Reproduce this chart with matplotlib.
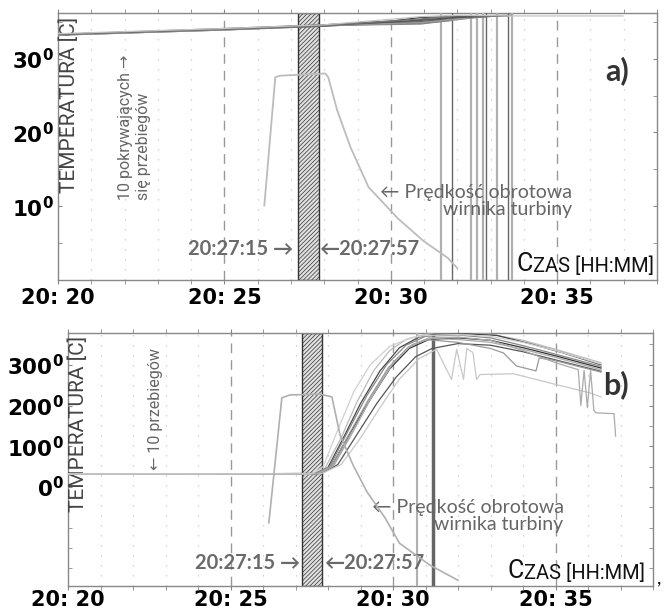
import matplotlib
matplotlib.use("Agg")
import matplotlib.pyplot as plt
from matplotlib.patches import Rectangle

plt.rcParams['font.family'] = ['Lato', 'DejaVu Sans']
plt.rcParams['hatch.linewidth'] = 0.5
plt.rcParams['mathtext.fontset'] = 'dejavusans'

# time in minutes after 20:20
x_ticks = [0, 5, 10, 15]
x_labels = ['20: 20', '20: 25', '20: 30', '20: 35']
win_start, win_end = 7.2, 7.83   # hatched window 20:27:15 - 20:27:57

# ---- panel a) ----
a_yticks = [10, 20, 30]
a_ylabels = [r'$\mathbf{10^{0}}$', r'$\mathbf{20^{0}}$', r'$\mathbf{30^{0}}$']
a_run_t = [
    [0, 5, 8, 10.9, 11.52],
    [0, 5, 8, 10.9, 11.85],
    [0, 5, 8, 10.0, 10.9, 12.42],
    [0, 5, 8, 10.9, 12.0, 12.6],
    [0, 5, 8, 10.0, 10.9, 12.78],
    [0, 5, 8, 10.9, 12.0, 12.85],
    [0, 5, 8, 10.9, 12.0, 13.18],
    [0, 5, 8, 10.9, 12.0, 13.51],
    [0, 5, 8, 10.9, 12.0, 13.63],
    [0, 5, 8, 10.9, 12.0, 13.6, 16.98],
]
a_run_v = [
    [33.3, 34.0, 34.5, 35.0, 35.3],
    [33.3, 34.0, 34.5, 34.8, 35.2],
    [33.2, 33.9, 34.4, 34.9, 35.3, 35.7],
    [33.3, 34.0, 34.5, 34.7, 35.3, 35.6],
    [33.3, 34.0, 34.6, 35.1, 35.6, 35.8],
    [33.3, 34.1, 34.6, 35.0, 35.5, 35.7],
    [33.2, 33.9, 34.5, 34.9, 35.4, 35.8],
    [33.3, 34.0, 34.5, 35.2, 35.6, 35.8],
    [33.3, 34.0, 34.5, 35.4, 35.8, 35.9],
    [33.4, 34.1, 34.6, 35.7, 35.9, 35.8, 35.8],
]
a_run_color = ['#444', '#777', '#555', '#888', '#333', '#666', '#999', '#555', '#777', '#c4c4c4']
a_end_t = [11.52, 11.85, 12.42, 12.6, 12.78, 12.85, 13.18, 13.51, 13.63]
a_end_color = ['#b0b0b0', '#666', '#b0b0b0', '#b0b0b0', '#b0b0b0', '#666', '#b0b0b0', '#666', '#b0b0b0']
a_speed_t = [6.2, 6.53, 6.68, 8.03, 8.12, 8.39, 8.79, 9.33, 10.2, 10.98, 11.71, 12.0]
a_speed_v = [10.1, 27.5, 27.7, 28.0, 27.5, 23.0, 18.0, 12.6, 8.4, 5.3, 3.0, 1.6]

# ---- panel b) ----
b_yticks = [0, 100, 200, 300]
b_ylabels = [r'$\mathbf{0^{0}}$', r'$\mathbf{100^{0}}$', r'$\mathbf{200^{0}}$', r'$\mathbf{300^{0}}$']
b_run_t = [
    [0, 7.5, 7.9, 8.4, 8.9, 9.4, 9.9, 10.4, 11.0, 12.0, 13.0, 14.0, 15.0, 16.4],
    [0, 7.6, 8.0, 8.5, 9.0, 9.6, 10.2, 10.8, 11.3, 12.3, 13.2, 14.2, 15.2, 16.4],
    [0, 7.6, 8.05, 8.6, 9.2, 9.8, 10.4, 11.0, 12.0, 13.0, 14.0, 15.0, 16.4],
    [0, 7.7, 8.1, 8.7, 9.3, 9.9, 10.5, 11.1, 12.0, 13.0, 14.0, 15.0, 16.4],
    [0, 7.7, 8.2, 8.8, 9.4, 10.0, 10.6, 11.2, 12.0, 13.0, 14.0, 15.0, 16.4],
    [0, 7.8, 8.3, 8.9, 9.5, 10.1, 10.7, 11.2, 12.0, 13.0, 14.0, 15.0, 16.4],
    [0, 7.65, 8.1, 8.65, 9.25, 9.85, 10.45, 11.0, 12.0, 13.0, 13.4, 13.8, 14.4, 14.5, 15.0, 16.4],
    [0, 7.8, 8.4, 9.0, 9.6, 10.2, 10.8, 11.34, 11.8, 11.96, 12.17, 12.27, 12.46, 12.57, 12.68,
     13.7, 15.04, 16.06, 16.4],
    [0, 7.7, 8.15, 8.75, 9.35, 9.95, 10.5, 11.1, 12.0, 13.0, 14.0, 15.0, 15.7, 15.78, 15.88,
     15.98, 16.08, 16.18, 16.25, 16.8, 16.85],
    [0, 7.5, 7.85, 8.3, 8.8, 9.3, 9.9, 10.5, 11.0, 12.0, 13.0, 14.0, 15.0, 16.4],
]
b_run_v = [
    [32, 32, 45, 120, 210, 285, 335, 362, 375, 377, 375, 360, 338, 305],
    [32, 32, 48, 125, 205, 285, 342, 368, 375, 376, 372, 352, 330, 300],
    [32, 32, 50, 135, 225, 300, 348, 370, 373, 366, 347, 326, 296],
    [32, 33, 50, 135, 215, 290, 340, 362, 366, 360, 342, 322, 292],
    [32, 33, 55, 140, 230, 305, 350, 365, 362, 355, 338, 318, 288],
    [32, 33, 55, 130, 205, 270, 320, 340, 352, 348, 332, 312, 284],
    [32, 33, 50, 130, 215, 292, 342, 362, 355, 340, 329, 297, 285, 317, 310, 282],
    [32, 33, 55, 120, 195, 265, 315, 338, 264, 338, 264, 340, 330, 264, 276,
     278, 251, 231, 221],
    [32, 33, 52, 135, 222, 298, 345, 366, 368, 360, 335, 305, 288, 200, 286,
     195, 286, 188, 182, 180, 125],
    [32, 32, 50, 140, 235, 300, 345, 365, 372, 374, 370, 355, 335, 302],
]
b_run_color = ['#bbb', '#444', '#888', '#333', '#aaa', '#555', '#999', '#c8c8c8', '#aaa', '#d0d0d0']
b_end_t = [10.73, 11.24]
b_end_color = ['#b0b0b0', '#666']
b_end_width = [1.5, 2.5]
b_speed_t = [6.18, 6.58, 6.83, 7.75, 8.12, 8.37, 8.77, 9.2, 9.75, 10.2, 11.14, 12.0]
b_speed_v = [-88, 219, 226, 228, 221, 128, 54, -12, -75, -138, -192, -229]

fig = plt.figure(figsize=(6.67, 6.12), dpi=100)
ax_a = fig.add_axes([58 / 667, 1 - 280 / 612, 599 / 667, 267 / 612])
ax_b = fig.add_axes([68 / 667, 1 - 586 / 612, 585 / 667, 253 / 612])

num_font = ['DejaVu Sans']
thin_font = ['Roboto', 'DejaVu Sans']


def setup(ax, ylim, yticks, ylabels, yminor, xpad):
    ax.set_xlim(0, 18)
    ax.set_ylim(*ylim)
    for s in ax.spines.values():
        s.set_color('#888')
        s.set_linewidth(1)
    # grid: dotted every minute, dashed every 5 min
    for m in range(1, 18):
        if m % 5 == 0:
            ax.axvline(m, color='#999', lw=1, ls=(0, (7, 5)), zorder=1)
        else:
            ax.axvline(m, color='#c8c8c8', lw=0.9, ls=(0, (1, 7)), zorder=1)
    ax.set_xticks(x_ticks)
    ax.set_xticklabels(x_labels, fontsize=15, fontweight='bold', family=num_font)
    ax.set_xticks(range(0, 19), minor=True)
    ax.tick_params(axis='x', which='both', direction='out', top=True, length=3,
                   color='#888', pad=xpad)
    ax.set_yticks(yticks)
    ax.set_yticklabels(ylabels, fontsize=15.5, family=num_font)
    ax.set_yticks(yminor, minor=True)
    ax.tick_params(axis='y', which='both', direction='in', right=True, length=3,
                   color='#888', pad=3)
    ax.add_patch(Rectangle((win_start, ylim[0]), win_end - win_start, ylim[1] - ylim[0],
                           facecolor='#e0e0e0', edgecolor='#333', hatch='////////',
                           lw=1, zorder=2))


def small_caps_label(ax, x, y):
    t = ax.text(x, y, 'ZAS [HH:MM]', fontsize=14.5, color='#111', ha='right',
                va='bottom', family=thin_font)
    ax.annotate('C', xy=(0, 0), xycoords=t, fontsize=18, color='#111',
                ha='right', va='bottom', family=thin_font)


# ---- panel a ----
setup(ax_a, (0, 36.2), a_yticks, a_ylabels, [5, 15, 25, 35], 3)
for t, end_c in zip(a_end_t, a_end_color):
    ax_a.axvline(t, color=end_c, lw=1.6 if end_c == '#b0b0b0' else 1.0, zorder=3)
for t, v, c in zip(a_run_t, a_run_v, a_run_color):
    ax_a.plot(t, v, color=c, lw=0.9, zorder=4)
ax_a.plot(a_speed_t, a_speed_v, color='#bcbcbc', lw=1.3, zorder=4)

ax_a.text(0.33, 23.7, 'TEMPERATURA [C]', rotation=90, ha='center', va='center',
          fontsize=15, color='#444', family=thin_font)
ax_a.text(2.3, 10.9, '10 pokrywających →\nsię przebiegów', rotation=90, ha='center',
          va='bottom', multialignment='left', fontsize=11.5, color='#666',
          linespacing=1.3, family=thin_font)
ax_a.text(7.08, 4.2, '20:27:15 →', ha='right', va='center', fontsize=14.5,
          fontweight='bold', color='#6a6a6a')
ax_a.text(7.85, 4.2, '←20:27:57', ha='left', va='center', fontsize=14.5,
          fontweight='bold', color='#6a6a6a')
ax_a.text(15.45, 10.7, '← Prędkość obrotowa\nwirnika turbiny', ha='right', va='center',
          multialignment='right', fontsize=14, color='#666', linespacing=1.05)
ax_a.text(16.8, 28.4, 'a)', ha='center', va='center', fontsize=22,
          fontweight='bold', color='#333')
small_caps_label(ax_a, 17.9, 0.6)

# ---- panel b ----
setup(ax_b, (-243, 378), b_yticks, b_ylabels, [-200, -150, -100, -50, 50, 150, 250, 350], 0)
for t, c, w in zip(b_end_t, b_end_color, b_end_width):
    ax_b.axvline(t, color=c, lw=w, zorder=3)
for t, v, c in zip(b_run_t, b_run_v, b_run_color):
    ax_b.plot(t, v, color=c, lw=0.9, zorder=4)
ax_b.plot(b_speed_t, b_speed_v, color='#b0b0b0', lw=1.2, zorder=4)

ax_b.text(0.31, 156, 'TEMPERATURA [C]', rotation=90, ha='center', va='center',
          fontsize=15, color='#444', family=thin_font)
ax_b.text(2.68, 42, '← 10 przebiegów', rotation=90, ha='center', va='bottom',
          fontsize=11.5, color='#666', family=thin_font)
ax_b.text(7.14, -187, '20:27:15 →', ha='right', va='center', fontsize=14.5,
          fontweight='bold', color='#6a6a6a')
ax_b.text(7.88, -187, '←20:27:57', ha='left', va='center', fontsize=14.5,
          fontweight='bold', color='#6a6a6a')
ax_b.text(15.25, -71, '← Prędkość obrotowa\nwirnika turbiny', ha='right', va='center',
          multialignment='right', fontsize=14, color='#666', linespacing=1.05)
ax_b.text(16.86, 250, 'b)', ha='center', va='center', fontsize=22,
          fontweight='bold', color='#333')
small_caps_label(ax_b, 17.75, -236)
fig.text(659 / 667, 1 - 578 / 612, ',', fontsize=14, color='#111', ha='center', va='center')

fig.savefig('out.png', dpi=100)
